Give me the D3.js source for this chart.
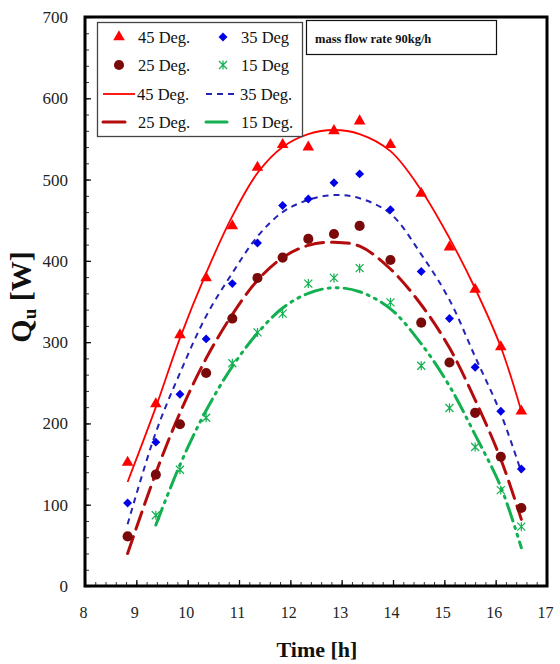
<!DOCTYPE html>
<html>
<head>
<meta charset="utf-8">
<script src="https://cdn.jsdelivr.net/npm/d3@7"></script>
<style>
  html, body { margin: 0; padding: 0; background: #fff; }
  svg { display: block; font-family: "Liberation Serif", "Times New Roman", serif; }
  .tick-label { font-size: 16px; fill: #222; }
  .legend-text { font-size: 16.5px; fill: #111; }
</style>
</head>
<body>
<svg id="chart" width="560" height="664"></svg>
<script>
// measured hours
const times = [8.83, 9.38, 9.85, 10.36, 10.87, 11.36, 11.85, 12.35, 12.85, 13.35, 13.95, 14.55, 15.1, 15.6, 16.1, 16.5];
const times15 = [9.38, 9.85, 10.36, 10.87, 11.36, 11.85, 12.35, 12.85, 13.35, 13.95, 14.55, 15.1, 15.6, 16.1, 16.5];

// measured useful heat gain (W)
const meas45 = [152, 224, 309, 379, 443, 515, 543, 540, 560, 572, 543, 483, 417, 365, 294, 215];
const meas35 = [102, 177, 236, 304, 372, 422, 468, 476, 496, 507, 463, 387, 329, 269, 215, 144];
const meas25 = [61, 137, 199, 262, 329, 379, 404, 427, 433, 443, 401, 324, 275, 213, 159, 96];
const meas15 = [87, 143, 207, 274, 312, 335, 372, 379, 391, 349, 271, 219, 171, 118, 73];

// fitted curves
const fit45 = [128, 220, 305, 385, 455, 508, 540, 556, 561, 556, 535, 487, 428, 366, 294, 215];
const fit35 = [76, 189, 262, 332, 385, 430, 460, 475, 481, 477, 458, 408, 352, 282, 212, 140];
const fit25 = [40, 139, 213, 280, 334, 376, 404, 419, 423, 418, 390, 346, 293, 229, 156, 82];
const fit15 = [75, 149, 216, 270, 311, 342, 360, 367, 362, 341, 298, 246, 186, 122, 47];

const xTicks = [8, 9, 10, 11, 12, 13, 14, 15, 16, 17];
const yTicks = [0, 100, 200, 300, 400, 500, 600, 700];

const svg = d3.select("#chart");
const x = d3.scaleLinear().domain([8, 17]).range([85, 547]);
const y = d3.scaleLinear().domain([0, 700]).range([586, 17]);

// minor + major ticks (inside)
const xMinor = d3.range(8, 17.001, 0.2);
const yMinor = d3.range(0, 700.001, 20);

svg.append("g")
  .attr("transform", `translate(0,${y(0)})`)
  .call(d3.axisBottom(x).tickValues(xMinor).tickSize(-4).tickFormat(""))
  .call(g => g.select(".domain").remove())
  .call(g => g.selectAll("line").attr("stroke", "#333"));
svg.append("g")
  .attr("transform", `translate(0,${y(0)})`)
  .call(d3.axisBottom(x).tickValues(xTicks).tickSize(-6).tickFormat(""))
  .call(g => g.select(".domain").remove())
  .call(g => g.selectAll("line").attr("stroke", "#111").attr("stroke-width", 1.3));
svg.append("g")
  .attr("transform", `translate(${x(8)},0)`)
  .call(d3.axisLeft(y).tickValues(yMinor).tickSize(-4).tickFormat(""))
  .call(g => g.select(".domain").remove())
  .call(g => g.selectAll("line").attr("stroke", "#333"));
svg.append("g")
  .attr("transform", `translate(${x(8)},0)`)
  .call(d3.axisLeft(y).tickValues(yTicks).tickSize(-6).tickFormat(""))
  .call(g => g.select(".domain").remove())
  .call(g => g.selectAll("line").attr("stroke", "#111").attr("stroke-width", 1.3));

// tick labels
svg.append("g").selectAll("text")
  .data(xTicks)
  .join("text")
  .attr("class", "tick-label")
  .attr("x", d => x(d) - 1.5)
  .attr("y", 618)
  .attr("text-anchor", "middle")
  .text(d => d);

svg.append("g").selectAll("text")
  .data(yTicks)
  .join("text")
  .attr("class", "tick-label")
  .attr("x", 68)
  .attr("y", d => y(d) + 6)
  .attr("text-anchor", "end")
  .style("font-size", "17px")
  .text(d => d);

// frame
svg.append("rect")
  .attr("x", x(8))
  .attr("y", y(700))
  .attr("width", x(17) - x(8))
  .attr("height", y(0) - y(700))
  .attr("fill", "none")
  .attr("stroke", "#000")
  .attr("stroke-width", 3);

// axis titles
svg.append("text")
  .attr("x", 317)
  .attr("y", 657)
  .attr("text-anchor", "middle")
  .attr("font-weight", "bold")
  .attr("font-size", 22)
  .attr("fill", "#111")
  .text("Time [h]");

const yTitle = svg.append("text")
  .attr("transform", "translate(31,297) rotate(-90)")
  .attr("text-anchor", "middle")
  .attr("font-weight", "bold")
  .attr("font-size", 30)
  .attr("fill", "#111");
yTitle.append("tspan").text("Q");
yTitle.append("tspan").attr("font-size", 19).attr("dy", 5).text("u");
yTitle.append("tspan").attr("dy", -5).text(" [W]");

// fitted curves
const series = [
  { times: times, fit: fit45, meas: meas45, color: "#ff0000", dash: null, width: 1.8, marker: "triangle", fill: "#ff0000" },
  { times: times, fit: fit35, meas: meas35, color: "#2323b4", dash: "6,5", width: 2, marker: "diamond", fill: "#0000e6" },
  { times: times, fit: fit25, meas: meas25, color: "#b40c0c", dash: "18,8", width: 3, marker: "circle", fill: "#7a0a0a" },
  { times: times15, fit: fit15, meas: meas15, color: "#12b050", dash: "18,6,2,6,2,6", width: 3, marker: "star", fill: "#12b050" }
];

const line = d3.line()
  .x(d => x(d[0]))
  .y(d => y(d[1]))
  .curve(d3.curveCatmullRom.alpha(0.5));

series.forEach(s => {
  svg.append("path")
    .attr("d", line(s.times.map((t, i) => [t, s.fit[i]])))
    .attr("fill", "none")
    .attr("stroke", s.color)
    .attr("stroke-width", s.width)
    .attr("stroke-dasharray", s.dash)
    .attr("stroke-linecap", s.dash && s.width > 2 ? "round" : "butt");
});

function drawMarker(g, kind, cx, cy, fill) {
  if (kind === "star") {
    const r = 4;
    g.append("path")
      .attr("d", `M${cx - r},${cy - r}L${cx + r},${cy + r}M${cx - r},${cy + r}L${cx + r},${cy - r}M${cx},${cy - r - 0.5}L${cx},${cy + r + 0.5}`)
      .attr("stroke", fill)
      .attr("stroke-width", 1.2)
      .attr("fill", "none");
    return;
  }
  const sym = {
    triangle: d3.symbol(d3.symbolTriangle, 58),
    diamond: d3.symbol(d3.symbolSquare, 40),
    circle: d3.symbol(d3.symbolCircle, 80)
  }[kind];
  g.append("path")
    .attr("d", sym())
    .attr("transform", `translate(${cx},${cy})${kind === "diamond" ? " rotate(45)" : ""}`)
    .attr("fill", fill);
}

const markers = svg.append("g");
series.forEach(s => {
  s.times.forEach((t, i) => drawMarker(markers, s.marker, x(t), y(s.meas[i]), s.fill));
});

// legend
const lg = svg.append("g");
lg.append("rect")
  .attr("x", 97.5).attr("y", 22.5)
  .attr("width", 205).attr("height", 114)
  .attr("fill", "#fff")
  .attr("stroke", "#444")
  .attr("stroke-width", 1.3);

const legendItems = [
  { type: "marker", s: series[0], col: 0, row: 0, label: "45 Deg." },
  { type: "marker", s: series[1], col: 1, row: 0, label: "35 Deg" },
  { type: "marker", s: series[2], col: 0, row: 1, label: "25 Deg." },
  { type: "marker", s: series[3], col: 1, row: 1, label: "15 Deg" },
  { type: "line", s: series[0], col: 0, row: 2, label: "45 Deg.", len: 32 },
  { type: "line", s: series[1], col: 1, row: 2, label: "35 Deg.", len: 32 },
  { type: "line", s: series[2], col: 0, row: 3, label: "25 Deg.", len: 22 },
  { type: "line", s: series[3], col: 1, row: 3, label: "15 Deg.", len: 21 }
];
const rowY = [37, 65, 94, 122];
const colSym = [119, 223];
const colLine = [103, 206];
const colText = [138, 241];

legendItems.forEach(it => {
  const cy = rowY[it.row];
  if (it.type === "marker") {
    drawMarker(lg, it.s.marker, colSym[it.col], cy, it.s.fill);
  } else {
    lg.append("line")
      .attr("x1", colLine[it.col])
      .attr("x2", colLine[it.col] + it.len)
      .attr("y1", cy).attr("y2", cy)
      .attr("stroke", it.s.color)
      .attr("stroke-width", it.s.width)
      .attr("stroke-dasharray", it.s.dash === "6,5" ? "6,5" : null)
      .attr("stroke-linecap", it.s.width > 2 ? "round" : "butt");
  }
  lg.append("text")
    .attr("class", "legend-text")
    .attr("x", colText[it.col] - (it.type === "line" && it.row === 2 ? 1 : 0))
    .attr("y", cy + 6)
    .text(it.label);
});

// annotation box
svg.append("rect")
  .attr("x", 306.5).attr("y", 20.5)
  .attr("width", 190).attr("height", 34)
  .attr("fill", "#fff")
  .attr("stroke", "#111")
  .attr("stroke-width", 1.2);
svg.append("text")
  .attr("x", 315)
  .attr("y", 43)
  .attr("font-weight", "bold")
  .attr("font-size", 12.5)
  .attr("fill", "#111")
  .text("mass flow rate 90kg/h");
</script>
</body>
</html>
